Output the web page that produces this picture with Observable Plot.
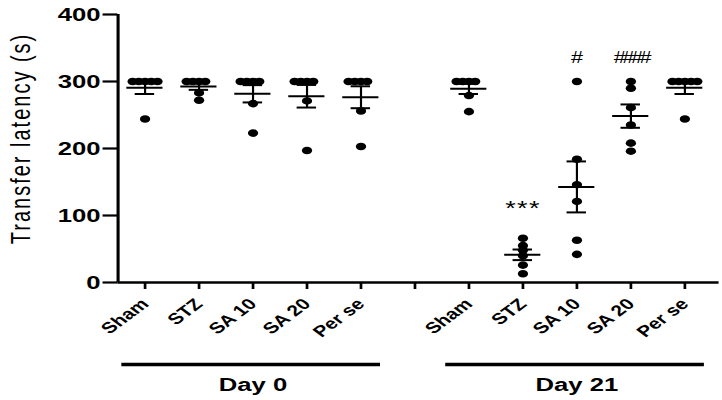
<!DOCTYPE html>
<html>
<head>
<meta charset="utf-8">
<script src="https://cdn.jsdelivr.net/npm/d3@7"></script>
<script src="https://cdn.jsdelivr.net/npm/@observablehq/plot@0.6"></script>
<style>
  html, body { margin: 0; padding: 0; background: white; overflow: hidden; }
</style>
</head>
<body>
<div id="chart"></div>
<script>
// ---- data ----
const groups = ["Sham", "STZ", "SA 10", "SA 20", "Per se"];
const days = ["Day 0", "Day 21"];
const yTicks = [0, 100, 200, 300, 400];
const yDomain = [0, 400];
const yLabel = "Transfer latency (s)";

// Transfer latency (s), one array per group, in the order of `groups`
const day0Values = [
  [300, 300, 300, 300, 300, 244],
  [300, 300, 300, 300, 283, 272],
  [300, 300, 300, 300, 267, 223],
  [300, 300, 300, 300, 271, 197],
  [300, 300, 300, 300, 256, 203]
];
const day21Values = [
  [300, 300, 300, 300, 279, 255],
  [66, 55, 48, 40, 26, 13],
  [300, 184, 146, 121, 63, 42],
  [300, 290, 261, 235, 208, 196],
  [300, 300, 300, 300, 300, 244]
];

// significance marks (Day 21): [group, label, y of baseline]
const asteriskMarks = [["STZ", "***", 101]];
const hashMarks = [["SA 10", "#", 328], ["SA 20", "####", 328]];

// ---- build tables ----
const key = (day, g) => `${day}|${g}`;
const cats = [
  ...groups.map(g => key(days[0], g)),
  "gap",
  ...groups.map(g => key(days[1], g))
];
const points = [];
const summary = [];
[day0Values, day21Values].forEach((set, di) => {
  set.forEach((vals, gi) => {
    const cat = key(days[di], groups[gi]);
    vals.forEach(v => points.push({cat, value: v}));
    const m = d3.mean(vals);
    const sem = d3.deviation(vals) / Math.sqrt(vals.length);
    summary.push({cat, mean: m, lo: m - sem, hi: m + sem});
  });
});
const asterisks = asteriskMarks.map(([g, label, y]) => ({cat: key(days[1], g), label, y}));
const hashes = hashMarks.map(([g, label, y]) => ({cat: key(days[1], g), label, y}));
const brackets = days.map(day => ({cat: key(day, groups[2]), label: day}));

// ---- layout ----
const W = 535;
const S = 722 / W; // horizontal stretch of the reference picture
const mL = 84, mR = 5;
const step = (W - mL - mR) / cats.length;
const xDomain = [-1, 1]; // position inside each category band
const left = () => xDomain[0];
const mid = () => (xDomain[0] + xDomain[1]) / 2;

const chart = Plot.plot({
  width: W,
  height: 400,
  marginLeft: mL,
  marginRight: mR,
  marginTop: 14,
  marginBottom: 118,
  fx: {domain: cats, padding: 0},
  x: {domain: xDomain, axis: null},
  y: {domain: yDomain},
  style: {
    fontFamily: "'Liberation Sans', Arial, sans-serif",
    color: "black",
    background: "white",
    overflow: "visible",
    transform: `scaleX(${S})`,
    transformOrigin: "0 0"
  },
  marks: [
    // axes
    Plot.axisY({ticks: yTicks, facetAnchor: "left", tickSize: 11, tickPadding: 2, fontSize: 19, fontWeight: "bold", strokeWidth: 2.2, label: null}),
    Plot.axisFx({
      anchor: "bottom", tickSize: 7, tickPadding: 12, tickRotate: -45,
      fontSize: 15.5, fontWeight: "bold", strokeWidth: 2, label: null,
      tickFormat: d => d === "gap" ? "" : d.split("|")[1]
    }),
    Plot.ruleY([yDomain[0]], {fx: () => cats[0], strokeWidth: 2.5, insetRight: -(cats.length - 1) * step}),
    Plot.ruleX([cats[0]], {fx: d => d, x: left, y1: () => yDomain[0], y2: () => yDomain[1], strokeWidth: 2.3}),
    Plot.text([yLabel], {fx: () => cats[0], x: left, y: () => (yDomain[0] + yDomain[1]) / 2, rotate: -90, dx: -72, dy: -10, fontSize: 20, text: d => d}),
    // data
    Plot.dot(points, Plot.dodgeX({anchor: "middle", padding: -3}, {fx: "cat", y: "value", r: 3.8, fill: "black"})),
    Plot.tickY(summary, {fx: "cat", y: "mean", strokeWidth: 2, insetLeft: 6.6, insetRight: 6.6}),
    Plot.tickY(summary, {fx: "cat", y: "lo", strokeWidth: 2, insetLeft: 12.8, insetRight: 12.8}),
    Plot.tickY(summary, {fx: "cat", y: "hi", strokeWidth: 2, insetLeft: 12.8, insetRight: 12.8}),
    Plot.ruleX(summary, {fx: "cat", x: mid, y1: "lo", y2: "hi", strokeWidth: 1.6}),
    // significance
    Plot.text(asterisks, {fx: "cat", x: mid, y: "y", text: "label", lineAnchor: "bottom", fontSize: 20}),
    Plot.text(hashes, {fx: "cat", x: mid, y: "y", text: "label", lineAnchor: "bottom", fontSize: 16}),
    // day brackets
    Plot.ruleY(brackets, {fx: "cat", y: () => yDomain[0], dy: 82, strokeWidth: 3.5, insetLeft: -(2 * step - 4), insetRight: -(2 * step - 6.5)}),
    Plot.text(brackets, {fx: "cat", x: mid, y: () => yDomain[0], dy: 102, text: "label", fontSize: 19, fontWeight: "bold", lineAnchor: "middle"})
  ]
});

d3.select(chart).selectAll("text").each(function () {
  const t = this.textContent;
  if (t === yLabel) this.setAttribute("letter-spacing", "2");
  else if (t === "***") this.setAttribute("letter-spacing", "1");
  else if (t === "####") this.setAttribute("letter-spacing", "-2.5");
});

document.getElementById("chart").appendChild(chart);
</script>
</body>
</html>
